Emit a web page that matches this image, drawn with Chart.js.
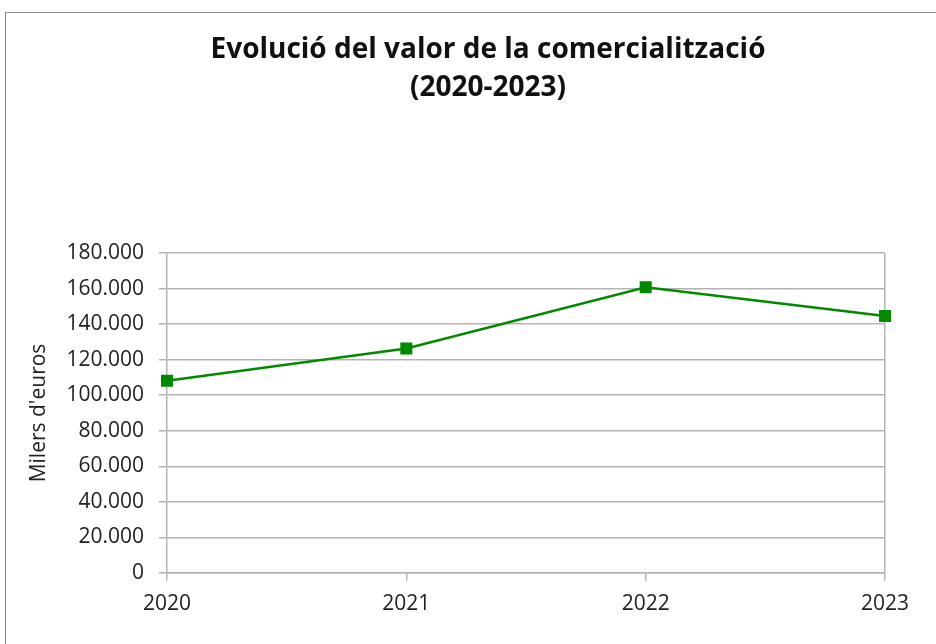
<!DOCTYPE html>
<html>
<head>
<meta charset="utf-8">
<script src="https://cdn.jsdelivr.net/npm/chart.js@4/dist/chart.umd.min.js"></script>
<style>
  html, body { margin: 0; padding: 0; background: #fff; overflow: hidden; }
  #wrap { position: relative; width: 936px; height: 644px; overflow: hidden; }
  #frame { position: absolute; left: 5px; top: 12px; width: 1000px; height: 700px; border: 1px solid #888; box-sizing: border-box; }
  #report-chart { position: absolute; left: 0; top: 0; }
</style>
</head>
<body>
<div id="wrap">
  <div id="frame"></div>
  <canvas id="report-chart" width="976" height="644"></canvas>
</div>
<script>
// ==== Data ====
const years = ['2020', '2021', '2022', '2023'];
const values = [108100, 126300, 160800, 144600];
const titleLines = ['Evolució del valor de la comercialització', '(2020-2023)'];
const yTitle = "Milers d'euros";

const gridColor = '#b3b3b3';
const lineGreen = '#008a00';

function fmtThousands(v) {
  return String(v).replace(/\B(?=(\d{3})+(?!\d))/g, '.');
}

// title is centred over the frame, not over the plot + y axis
const titleShift = {
  id: 'titleShift',
  afterLayout(chart) {
    const t = chart.titleBlock;
    if (!t) return;
    t.left = 91;
    t.width = t.right - t.left;
  }
};

// ==== Chart ====
const ctx = document.getElementById('report-chart').getContext('2d');
window.reportChart = new Chart(ctx, {
  type: 'line',
  data: {
    labels: years,
    datasets: [{
      label: 'Valor',
      data: values,
      borderColor: lineGreen,
      backgroundColor: lineGreen,
      borderWidth: 2.5,
      pointStyle: 'rect',
      pointRadius: 8.5,
      pointBorderWidth: 0,
      tension: 0
    }]
  },
  plugins: [titleShift],
  options: {
    responsive: false,
    animation: false,
    layout: { padding: { left: 0, right: 91, top: 0, bottom: 16 } },
    plugins: {
      legend: { display: false },
      tooltip: { enabled: false },
      title: {
        display: true,
        text: titleLines,
        color: '#111',
        font: { family: 'Open Sans', size: 28, weight: 'bold', lineHeight: 1.36 },
        padding: { top: 31, bottom: 146 }
      }
    },
    scales: {
      x: {
        offset: false,
        grid: {
          color: c => (c.index === years.length - 1 ? gridColor : 'transparent'),
          tickColor: gridColor,
          tickLength: 8,
          lineWidth: 1.5
        },
        border: { display: true, color: gridColor, width: 1.5 },
        ticks: {
          color: '#222',
          padding: 11,
          maxRotation: 0,
          font: { family: 'Open Sans', size: 21 }
        }
      },
      y: {
        min: 0,
        max: 180000,
        afterFit: s => { s.width = 167; },
        grid: { color: gridColor, tickColor: gridColor, tickLength: 8, lineWidth: 1.5 },
        border: { display: true, color: gridColor, width: 1.5 },
        ticks: {
          stepSize: 20000,
          color: '#222',
          padding: 15,
          font: { family: 'Open Sans', size: 21 },
          callback: v => fmtThousands(v)
        },
        title: {
          display: true,
          text: yTitle,
          color: '#222',
          font: { family: 'Open Sans', size: 21 },
          padding: { top: 26, bottom: 0 }
        }
      }
    }
  }
});
</script>
</body>
</html>
